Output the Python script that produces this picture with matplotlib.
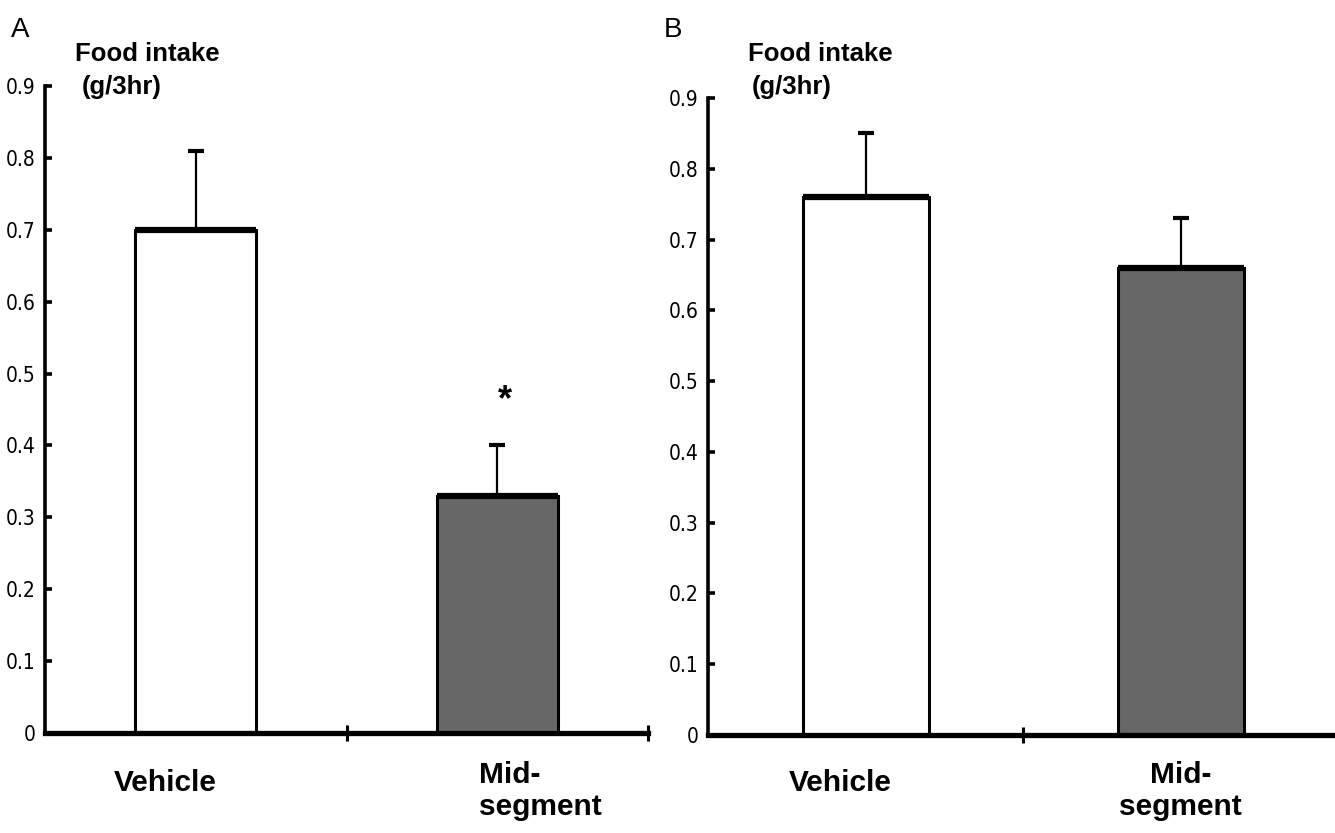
import matplotlib
matplotlib.use("Agg")
import matplotlib.pyplot as plt
import matplotlib.transforms as mtransforms
from matplotlib import font_manager

# data
groups = ["Vehicle", "Mid-\nsegment"]
panel_a_means = [0.70, 0.33]
panel_a_sem = [0.11, 0.07]
panel_b_means = [0.76, 0.66]
panel_b_sem = [0.09, 0.07]
yticks = [0, 0.1, 0.2, 0.3, 0.4, 0.5, 0.6, 0.7, 0.8, 0.9]
ytick_labels = ["0", "0.1", "0.2", "0.3", "0.4", "0.5", "0.6", "0.7", "0.8", "0.9"]

bar_colors = ["white", "#676767"]
text_font = ["Liberation Sans", "DejaVu Sans"]

# narrow font for the tick labels if one is around
names = {f.name for f in font_manager.fontManager.ttflist}
cond = [f for f in font_manager.fontManager.ttflist
        if f.name == "DejaVu Sans" and "Condensed" in f.fname and "Bold" not in f.fname
        and "Oblique" not in f.fname]
if "Liberation Sans Narrow" in names:
    tick_prop = font_manager.FontProperties(family="Liberation Sans Narrow", size=15)
elif cond:
    tick_prop = font_manager.FontProperties(fname=cond[0].fname, size=15)
else:
    tick_prop = font_manager.FontProperties(family="Liberation Sans", size=13.5)

W, H = 1335, 833
fig = plt.figure(figsize=(W / 100, H / 100), dpi=100)


def px_axes(x0, x1, y0, y1):
    # x0/x1 pixel columns of x=0 and x=2, y0/y1 pixel rows of y=0 and y=0.9
    return fig.add_axes([x0 / W, (H - y0) / H, (x1 - x0) / W, (y0 - y1) / H])


def draw_panel(ax, means, sems, label_x, label_ha):
    xpos = [0.5, 1.5]
    width = 0.4
    ax.bar(xpos, means, width=width, color=bar_colors, edgecolor="black",
           linewidth=2.2, zorder=2)
    # thick top edge of each bar
    ax.hlines(means, [x - width / 2 for x in xpos], [x + width / 2 for x in xpos],
              colors="black", linewidth=4.5, zorder=3)
    # upper half of the error bars only
    ax.errorbar(xpos, means, yerr=[[0, 0], sems], fmt="none", ecolor="black",
                elinewidth=1.6, capsize=5.5, capthick=3, zorder=1)

    ax.set_xlim(0, 2)
    ax.set_ylim(0, 0.9)
    for s in ["top", "right"]:
        ax.spines[s].set_visible(False)
    ax.spines["left"].set_linewidth(2.6)
    ax.spines["bottom"].set_linewidth(3.8)
    ax.spines["bottom"].set_zorder(4)
    ax.spines["left"].set_zorder(4)

    ax.set_yticks(yticks)
    ax.set_yticklabels(ytick_labels, fontproperties=tick_prop)
    ax.tick_params(axis="y", direction="in", length=5, width=2.6, pad=7)
    ax.set_xticks([1, 2])
    ax.set_xticklabels([])
    ax.tick_params(axis="x", direction="inout", length=12, width=2.2)

    trans = mtransforms.blended_transform_factory(ax.transData, fig.transFigure)
    for g, x, ha in zip(groups, label_x, label_ha):
        yb = 815 if "\n" in g else 791
        ax.text(x, (H - yb) / H, g, transform=trans, ha=ha, va="baseline",
                multialignment=ha, linespacing=1.2, family=text_font,
                fontweight="bold", fontsize=21.5)
    ax.patch.set_visible(False)
    return xpos


ax_a = px_axes(45, 648, 733, 86)
xa = draw_panel(ax_a, panel_a_means, panel_a_sem, [0.40, 1.44], ["center", "left"])
ax_a.text(xa[1] + 0.025, panel_a_means[1] + panel_a_sem[1] + 0.049, "*",
          ha="center", va="baseline", family=text_font, fontweight="bold", fontsize=26)

ax_b = px_axes(708, 1338, 735, 98)
draw_panel(ax_b, panel_b_means, panel_b_sem, [0.42, 1.50], ["center", "center"])

# panel letters and y axis titles
for letter, lx, fx, px in [("A", 11, 75, 82), ("B", 664, 748, 752)]:
    fig.text(lx / W, (H - 37) / H, letter, family=text_font, fontsize=20,
             va="baseline", ha="left")
    fig.text(fx / W, (H - 61) / H, "Food intake", family=text_font,
             fontweight="bold", fontsize=18.5, va="baseline", ha="left")
    fig.text(px / W, (H - 94) / H, "(g/3hr)", family=text_font,
             fontweight="bold", fontsize=18.5, va="baseline", ha="left")

fig.savefig("out.png", dpi=100)
